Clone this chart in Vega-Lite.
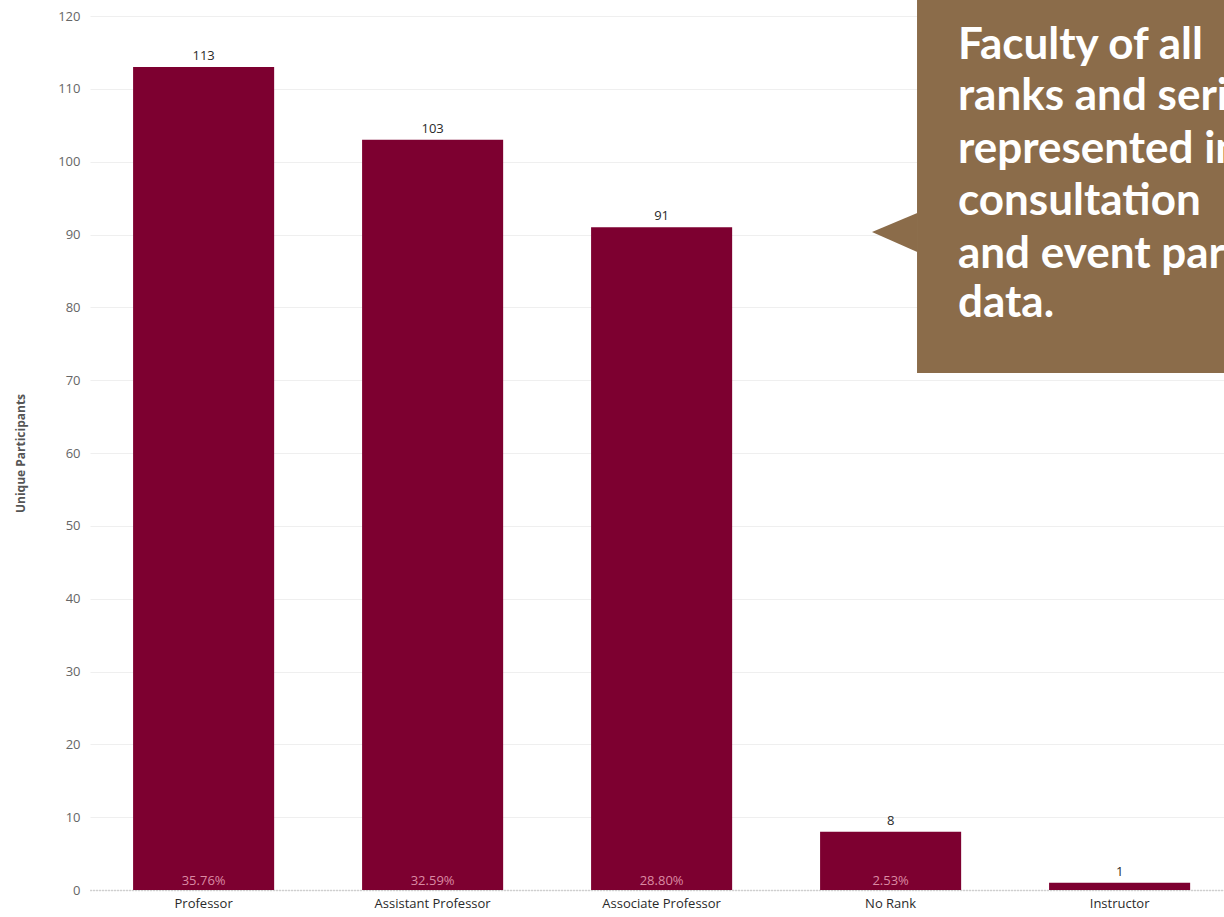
{
  "$schema": "https://vega.github.io/schema/vega-lite/v6.json",
  "autosize": {"type": "none"},
  "width": 1134,
  "height": 874,
  "padding": {"left": 90, "top": 16, "right": 0, "bottom": 27},
  "background": "white",
  "config": {
    "view": {"stroke": null},
    "font": "Open Sans"
  },
  "layer": [
    {
      "data": {
        "values": [
          {"rank": "Professor", "count": 113, "pct": "35.76%"},
          {"rank": "Assistant Professor", "count": 103, "pct": "32.59%"},
          {"rank": "Associate Professor", "count": 91, "pct": "28.80%"},
          {"rank": "No Rank", "count": 8, "pct": "2.53%"},
          {"rank": "Instructor", "count": 1, "pct": "0.32%"}
        ]
      },
      "encoding": {
        "x": {
          "field": "rank",
          "type": "nominal",
          "sort": null,
          "scale": {"paddingInner": 0.384, "paddingOuter": 0.168, "align": 0.56},
          "axis": {
            "title": null,
            "labelAngle": 0,
            "labelFontSize": 13,
            "labelColor": "#2a2a2a",
            "labelPadding": 7,
            "ticks": false,
            "domain": true,
            "domainColor": "#b0b0b0",
            "domainDash": [1, 2],
            "domainWidth": 1.5
          }
        },
        "y": {
          "field": "count",
          "type": "quantitative",
          "scale": {"domain": [0, 120], "nice": false},
          "axis": {
            "title": "Unique Participants",
            "titleFontSize": 12,
            "titleFontWeight": "bold",
            "titleColor": "#555555",
            "titlePadding": 30,
            "values": [0, 10, 20, 30, 40, 50, 60, 70, 80, 90, 100, 110, 120],
            "labelFontSize": 13,
            "labelColor": "#666666",
            "labelPadding": 10,
            "ticks": false,
            "domain": false,
            "grid": true,
            "gridColor": "#efefef",
            "gridWidth": 1
          }
        }
      },
      "layer": [
        {"mark": {"type": "bar", "color": "#7D0030"}},
        {
          "mark": {"type": "text", "baseline": "bottom", "dy": -4, "fontSize": 13, "color": "#2a2a2a"},
          "encoding": {"text": {"field": "count", "type": "quantitative"}}
        },
        {
          "transform": [{"filter": "datum.count > 5"}],
          "mark": {"type": "text", "baseline": "bottom", "dy": -2, "fontSize": 13, "color": "#db8aa3"},
          "encoding": {"y": {"datum": 0, "type": "quantitative"}, "text": {"field": "pct", "type": "nominal"}}
        }
      ]
    },
    {
      "layer": [
        {
          "data": {"values": [{"x1": 72.93, "x2": 100, "y1": 122.2, "y2": 70.98}]},
          "mark": {"type": "rect", "color": "#8B6C4A"},
          "encoding": {
            "x": {"field": "x1", "type": "quantitative", "scale": {"domain": [0, 100], "nice": false, "zero": false}, "axis": null},
            "x2": {"field": "x2"},
            "y": {"field": "y1", "type": "quantitative"},
            "y2": {"field": "y2"}
          }
        },
        {
          "data": {"values": [{"px": 68.96, "top": 90.34, "bot": 90.34}, {"px": 72.95, "top": 92.95, "bot": 87.6}]},
          "mark": {"type": "area", "color": "#8B6C4A", "orient": "vertical", "opacity": 1},
          "encoding": {
            "x": {"field": "px", "type": "quantitative", "axis": null},
            "y": {"field": "top", "type": "quantitative"},
            "y2": {"field": "bot"}
          }
        },
        {
          "data": {
            "values": [
              {"tx": 76.54, "ty": 114.1, "line": "Faculty of all"},
              {"tx": 76.54, "ty": 107.09, "line": "ranks and series"},
              {"tx": 76.54, "ty": 99.82, "line": "represented in"},
              {"tx": 76.54, "ty": 92.68, "line": "consultation"},
              {"tx": 76.54, "ty": 85.4, "line": "and event participation"},
              {"tx": 76.54, "ty": 78.67, "line": "data."}
            ]
          },
          "mark": {"type": "text", "align": "left", "baseline": "alphabetic", "font": "Lato", "fontWeight": "bold", "fontSize": 44, "color": "white", "clip": true},
          "encoding": {
            "x": {"field": "tx", "type": "quantitative", "axis": null},
            "y": {"field": "ty", "type": "quantitative"},
            "text": {"field": "line", "type": "nominal"}
          }
        }
      ]
    }
  ],
  "resolve": {"scale": {"x": "independent"}}
}
